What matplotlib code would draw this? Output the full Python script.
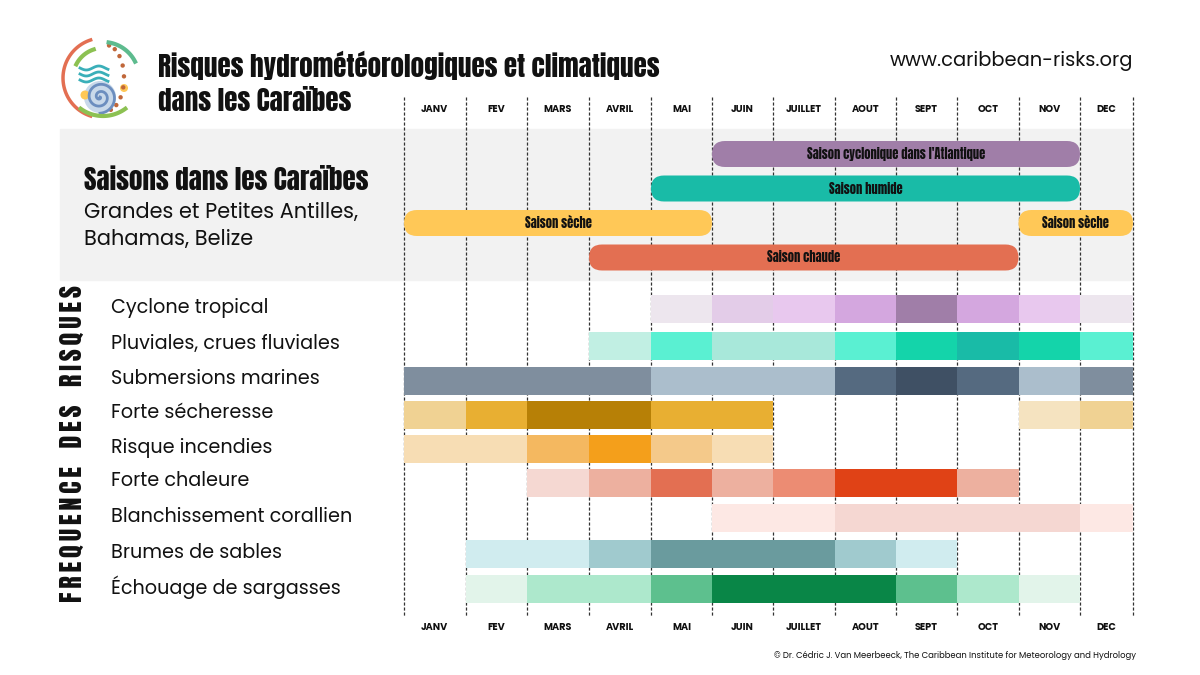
import numpy as np
import matplotlib.pyplot as plt
from matplotlib.patches import FancyBboxPatch, Rectangle, Circle

# fonts: condensed heavy face for headings, geometric sans for the rest
NARROW = ['Anton', 'Oswald', 'DejaVu Sans']
BODY = ['Poppins', 'Open Sans', 'DejaVu Sans']

months = ["JANV", "FEV", "MARS", "AVRIL", "MAI", "JUIN", "JUILLET", "AOUT", "SEPT", "OCT", "NOV", "DEC"]

# seasons: name, first month, last month (0 = JANV)
season_names = ["Saison cyclonique dans l'Atlantique", "Saison humide", "Saison sèche", "Saison sèche", "Saison chaude"]
season_start = [5, 4, 0, 10, 3]
season_end = [10, 10, 4, 11, 9]
season_row = [0, 1, 2, 2, 3]
season_colors = ["#A07EA8", "#19BBA7", "#FFC857", "#FFC857", "#E36F52"]

risks = ["Cyclone tropical", "Pluviales, crues fluviales", "Submersions marines", "Forte sécheresse",
         "Risque incendies", "Forte chaleure", "Blanchissement corallien", "Brumes de sables",
         "Échouage de sargasses"]

# one colour per month, None = no risk
cyclone = [None, None, None, None, "#EDE6EE", "#E3CCE8", "#E8C8EE", "#D4A7DF", "#A07EA8", "#D4A7DF", "#E8C8EE", "#EDE6EE"]
pluvial = [None, None, None, "#C1EFE3", "#5AF0D2", "#A8E8DA", "#A8E8DA", "#5AF0D2", "#14D4AA", "#19BBA7", "#14D4AA", "#5AF0D2"]
submersion = ["#7F8E9E", "#7F8E9E", "#7F8E9E", "#7F8E9E", "#ABBECC", "#ABBECC", "#ABBECC", "#556A80", "#3F5064", "#556A80", "#ABBECC", "#7F8E9E"]
secheresse = ["#F0D293", "#E8AF32", "#B78006", "#B78006", "#E8AF32", "#E8AF32", None, None, None, None, "#F5E3C0", "#F0D293"]
incendies = ["#F7DDB4", "#F7DDB4", "#F4B860", "#F49F1B", "#F4C98A", "#F7DDB4", None, None, None, None, None, None]
chaleur = [None, None, "#F5D8D2", "#EDB09F", "#E36F52", "#EDB09F", "#EC8C73", "#E04216", "#E04216", "#EDB09F", None, None]
blanchissement = [None, None, None, None, None, "#FDE8E4", "#FDE8E4", "#F5D7D2", "#F5D7D2", "#F5D7D2", "#F5D7D2", "#FDE8E4"]
brumes = [None, "#D0ECEF", "#D0ECEF", "#A0CACE", "#6A9B9E", "#6A9B9E", "#6A9B9E", "#A0CACE", "#D0ECEF", None, None, None]
sargasses = [None, "#E2F4EA", "#ADE8CC", "#ADE8CC", "#5DC08E", "#098647", "#098647", "#098647", "#5DC08E", "#ADE8CC", "#E2F4EA", None]
risk_colors = [cyclone, pluvial, submersion, secheresse, incendies, chaleur, blanchissement, brumes, sargasses]

# layout (pixels)
month_edges = [404, 465.5, 527, 589, 651, 712, 773, 834.5, 896, 957, 1018.5, 1080, 1133]
season_y = [154, 188.5, 223, 257.5]
season_h = 26
risk_y = [309, 346, 381, 415, 449, 483, 518, 554, 589]
risk_h = 28

fig = plt.figure(figsize=(12, 6.75), dpi=100)
ax = fig.add_axes([0, 0, 1, 1])
ax.set_xlim(0, 1200)
ax.set_ylim(675, 0)
ax.axis('off')

# grey panel behind the seasons
ax.add_patch(Rectangle((60, 129), 1073, 151, color="#F2F2F2", zorder=0))

# month grid
for x in month_edges:
    ax.plot([x, x], [97, 617], color="#333333", lw=0.9, ls=(0, (2.5, 1.5)), zorder=1)
for i, m in enumerate(months):
    xc = (month_edges[i] + month_edges[i + 1]) / 2
    for yy in (110, 627):
        ax.text(xc, yy, m, ha='center', va='center', fontsize=7, fontweight='bold',
                family=BODY, color="#111111")

# season bars
for name, s, e, r, c in zip(season_names, season_start, season_end, season_row, season_colors):
    x0 = month_edges[s]
    x1 = month_edges[e + 1]
    yc = season_y[r]
    ax.add_patch(FancyBboxPatch((x0, yc - season_h / 2), x1 - x0, season_h,
                                boxstyle="round,pad=0,rounding_size=13", fc=c, ec='none', zorder=2))
    ax.text((x0 + x1) / 2, yc, name, ha='center', va='center', fontsize=9,
            family=NARROW, color="#111111", zorder=3)

# risk cells
for label, row, yc in zip(risks, risk_colors, risk_y):
    for i, c in enumerate(row):
        if c is None:
            continue
        ax.add_patch(Rectangle((month_edges[i], yc - risk_h / 2), month_edges[i + 1] - month_edges[i],
                               risk_h, fc=c, ec='none', zorder=2))
    ax.text(111, yc - 1.5, label, ha='left', va='center', fontsize=13.8, family=BODY, color="#111111")

# vertical label, letters of each word spread with hair spaces, wider word gaps
vlabel = "   ".join("\u200a".join(w) for w in "FREQUENCE DES RISQUES".split())
ax.text(72, 444, vlabel, rotation=90, ha='center', va='center',
        fontsize=18.8, family=NARROW, color="#111111")

# left panel text
ax.text(84, 180, "Saisons dans les Caraïbes", ha='left', va='center', fontsize=19.5,
        family=NARROW, color="#111111")
ax.text(84, 213, "Grandes et Petites Antilles,", ha='left', va='center', fontsize=15,
        family=BODY, color="#111111")
ax.text(84, 240, "Bahamas, Belize", ha='left', va='center', fontsize=15, family=BODY, color="#111111")

# title and url
ax.text(158, 65, "Risques hydrométéorologiques et climatiques", ha='left', va='center', fontsize=19.5,
        family=NARROW, color="#111111")
ax.text(158, 101, "dans les Caraïbes", ha='left', va='center', fontsize=19.5,
        family=NARROW, color="#111111")
ax.text(1133, 61, "www.caribbean-risks.org", ha='right', va='center', fontsize=14,
        family=BODY, color="#111111")
ax.text(1136, 655, "© Dr. Cédric J. Van Meerbeeck, The Caribbean Institute for Meteorology and Hydrology",
        ha='right', va='center', fontsize=6.1, family=BODY, color="#111111")

# small logo: spiral, waves, arcs and dots
ax.add_patch(Circle((100, 97), 16, fc="#C9D9EA", ec='none', zorder=0))
t = np.linspace(0, 4.5 * np.pi, 200)
ax.plot(100 + 1.15 * t * np.cos(t), 97 + 1.15 * t * np.sin(t), color="#6C8EBF", lw=2)
for k in range(3):
    xx = np.linspace(80, 108, 40)
    ax.plot(xx, 68 + k * 6 + 2 * np.sin((xx - 80) / 4), color="#3AAFB9", lw=2)
theta = np.linspace(np.pi * 0.6, np.pi * 1.4, 50)
ax.plot(103 + 40 * np.cos(theta), 78 + 40 * np.sin(theta), color="#E36F52", lw=2.5)
theta = np.linspace(np.pi * 0.3, np.pi * 0.7, 50)
ax.plot(103 + 38 * np.cos(theta), 78 + 38 * np.sin(theta), color="#8CC152", lw=3)
theta = np.linspace(-np.pi * 0.45, -np.pi * 0.15, 50)
ax.plot(103 + 36 * np.cos(theta), 78 + 36 * np.sin(theta), color="#5DBB8E", lw=3)
theta = np.linspace(np.pi * 1.15, np.pi * 1.4, 30)
ax.plot(103 + 30 * np.cos(theta), 78 + 30 * np.sin(theta), color="#8CC152", lw=3)
for ang in np.linspace(-1.4, 1.3, 9):
    ax.add_patch(Circle((106 + 18 * np.cos(ang), 78 + 33 * np.sin(ang)), 2.2, fc="#C0673A", ec='none'))
ax.add_patch(Circle((85, 95), 4.5, fc="#FFC857", ec='none', zorder=0))
ax.add_patch(Circle((124, 88), 4, fc="#FFC857", ec='none', zorder=0))

fig.savefig("out.png", dpi=100)
